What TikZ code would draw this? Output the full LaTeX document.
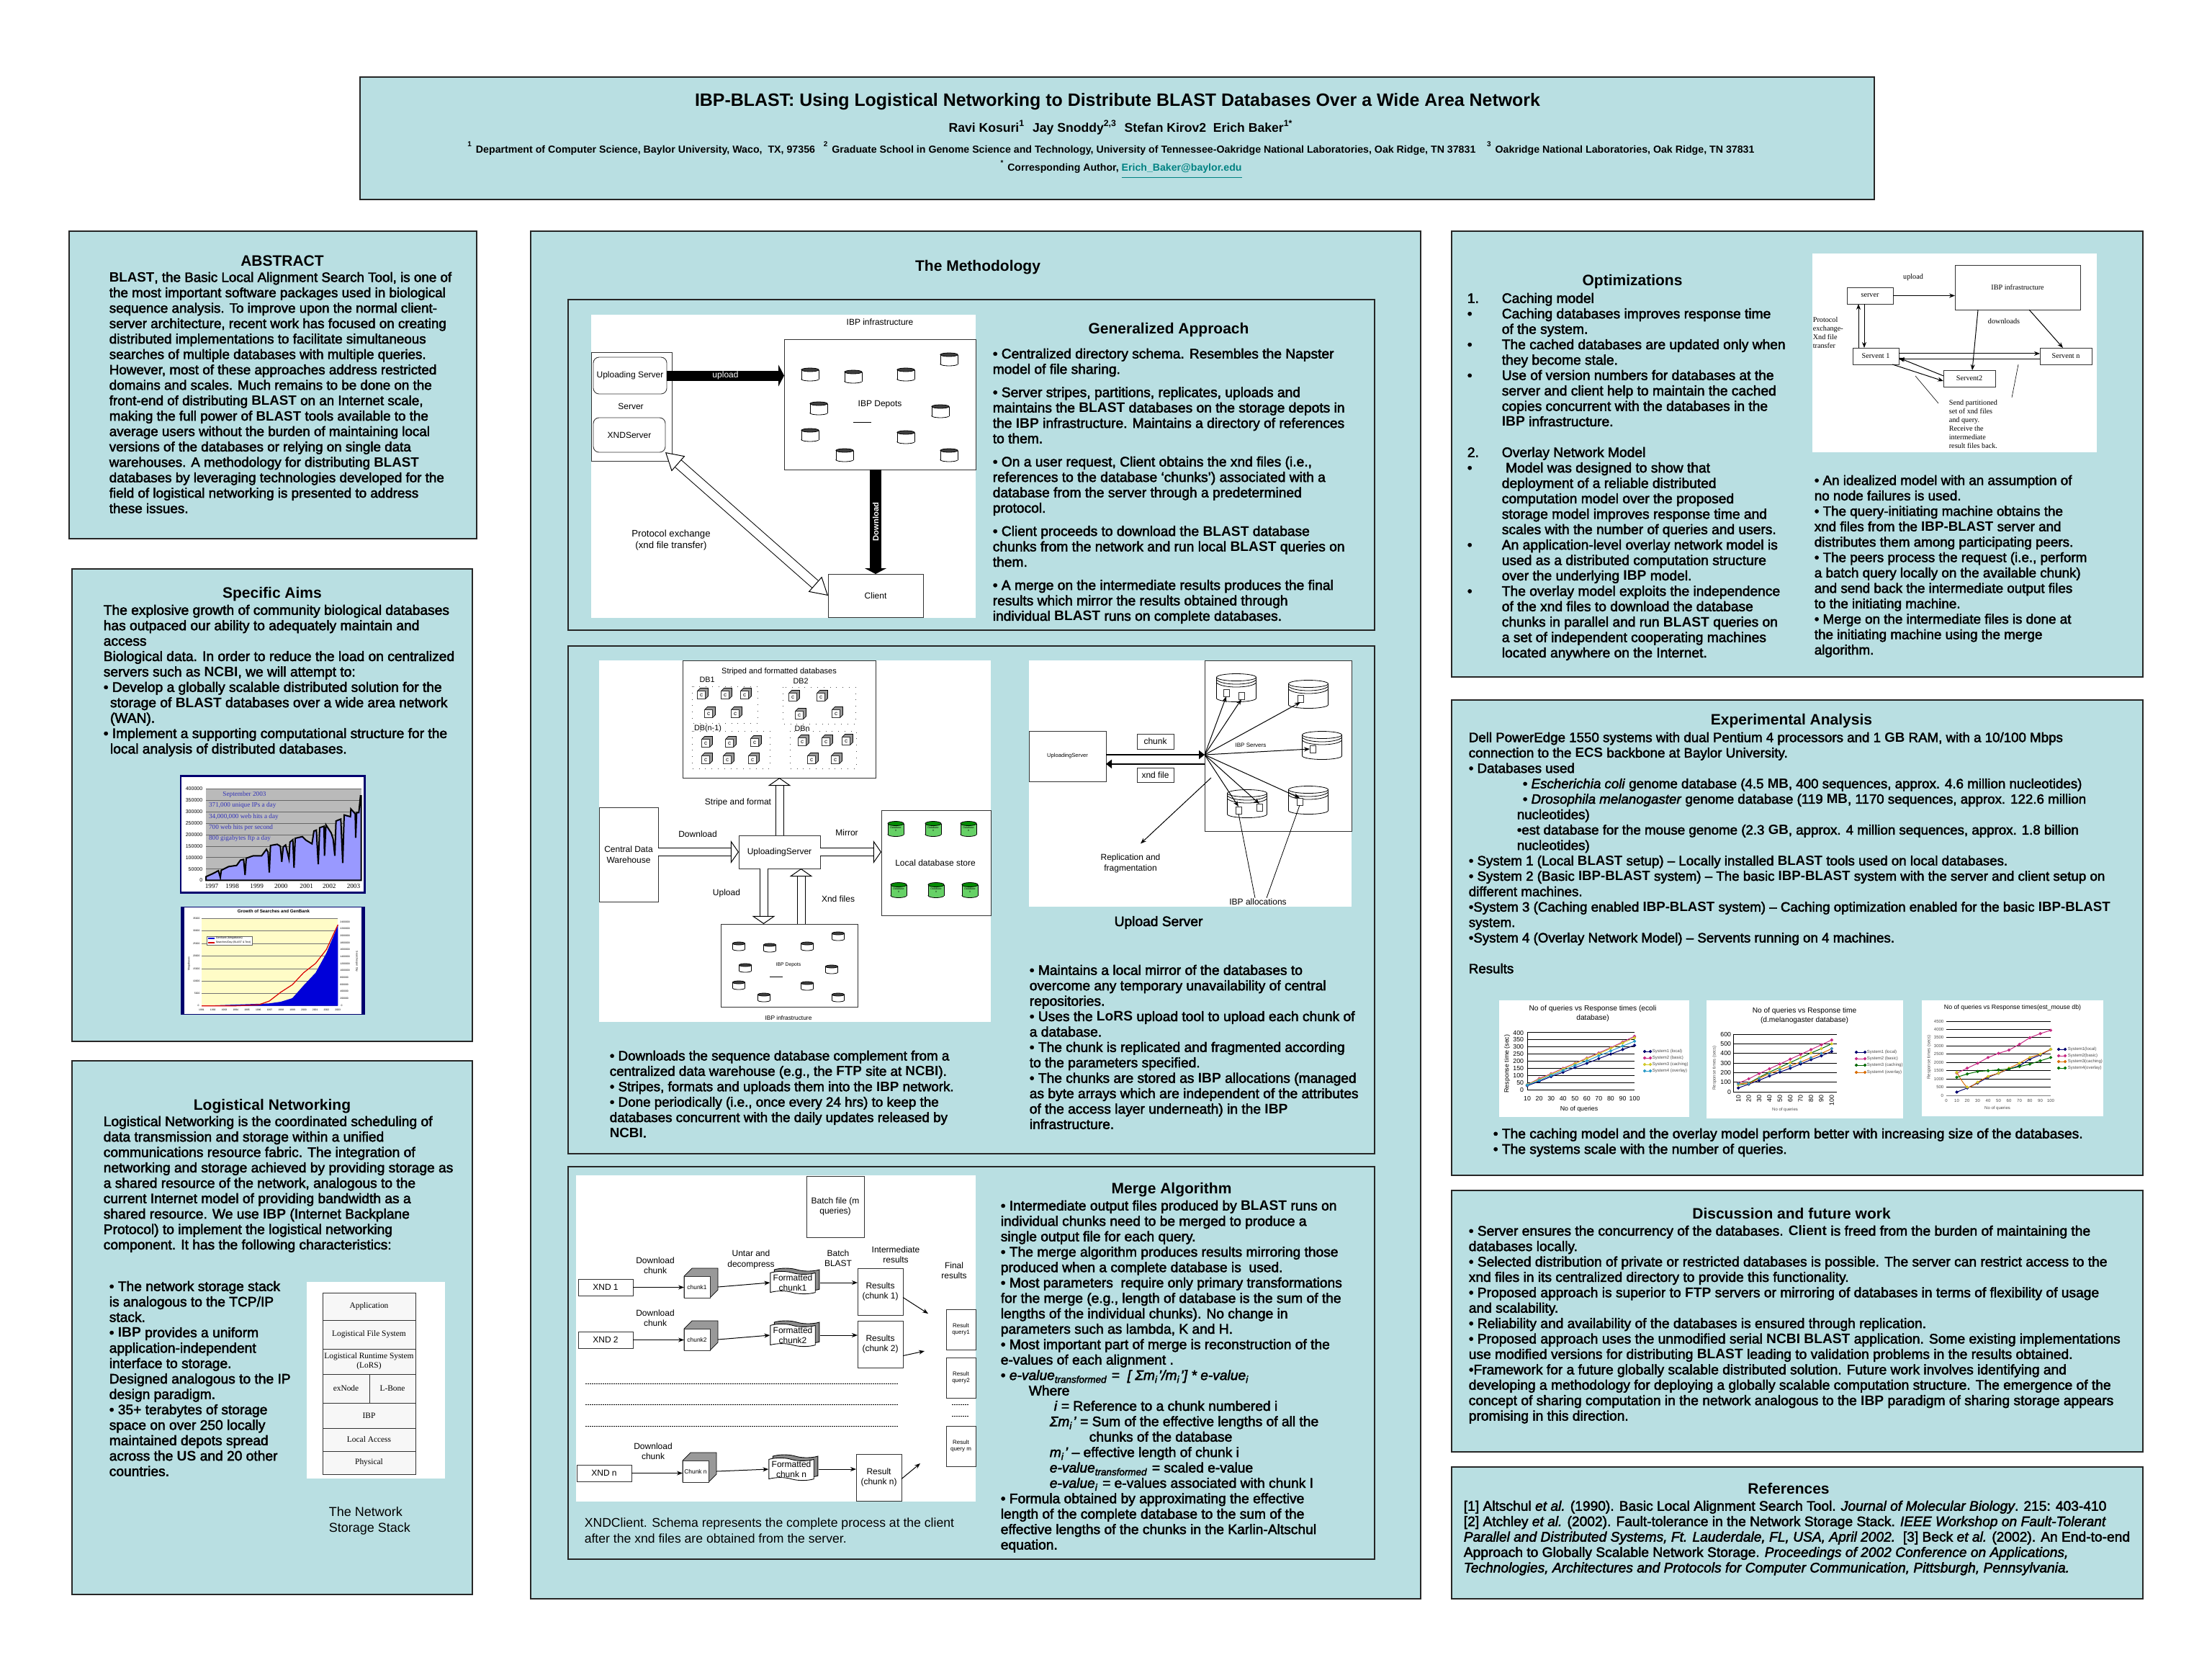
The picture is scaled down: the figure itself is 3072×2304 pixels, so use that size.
\documentclass[tikz,border=0pt]{standalone}
\usepackage{fontspec}
\setmainfont{Liberation Sans}
\newfontfamily\timesfont{Liberation Serif}
\newfontfamily\fatfont[UprightFeatures={FakeBold=2.5},ItalicFeatures={FakeBold=2.5}]{Liberation Sans}
\usetikzlibrary{arrows}
\usetikzlibrary{arrows.meta}
\usetikzlibrary{calc,shapes.symbols,shadows}
\usetikzlibrary{positioning}

\definecolor{panelblue}{RGB}{185,223,226}
\definecolor{chartnavy}{RGB}{0,0,110}
\definecolor{linkteal}{RGB}{0,130,130}

\tikzset{
  panel/.style={draw=black!85,line width=.35pt,fill=panelblue},
  body/.style={anchor=north west,align=left,inner sep=0pt,font=\fatfont\fontsize{4.8}{5.35}\selectfont,execute at begin node=\strut},
  bodysmall/.style={body,font=\fatfont\fontsize{4.7}{5.35}\selectfont},
  head/.style={inner sep=0pt,font=\bfseries\fontsize{5.25}{7}\selectfont},
  lab/.style={inner sep=0pt,align=center,font=\fontsize{3}{3.6}\selectfont},
  tinylab/.style={inner sep=0pt,align=center,font=\fontsize{2}{2.4}\selectfont},
  serlab/.style={inner sep=0pt,align=left,font=\timesfont\fontsize{2.55}{3}\selectfont},
  cell/.style={draw=black!80,line width=.22pt,font=\fontsize{3}{3.6}\selectfont},
  hollow/.style={double,double distance=2.5pt,line width=.25pt,-{Triangle[fill=white,line width=.25pt,length=2.8pt,width=8pt]}},
  solidarrow/.style={line width=3.5pt,-{Triangle[length=2pt,width=7.5pt]}},
  thinarrow/.style={line width=.25pt,->},
  doc/.style={tape,draw=black,line width=.22pt,fill=white,tape bend top=out and in,tape bend bottom=out and in,tape bend height=1pt,
    minimum width=15.6pt,minimum height=7.8pt,inner sep=0pt,align=center,font=\fontsize{3}{3.6}\selectfont,
    copy shadow={shadow xshift=1.4pt,shadow yshift=1.1pt,fill=black!45,draw=black,line width=.22pt}},
  >={Stealth[length=2pt,width=1.5pt]}
}

% box given by its corners
\newcommand{\boxat}[7][cell]{%
  \pgfmathsetmacro\bw{((#5)-(#3))*0.25}\pgfmathsetmacro\bh{((#6)-(#4))*0.25}%
  \node[#1,minimum width=\bw pt,minimum height=\bh pt,inner sep=0pt,outer sep=0pt,align=center] (#2) at ({((#3)+(#5))/2},{((#4)+(#6))/2}) {#7};}
% cube: name, centre x, centre y, width, height, depth, label
\newcommand{\cubeat}[7]{%
  \fill[black!40,draw=black,line width=.18pt] (#2-#4/2,#3-#5/2) -- ++(#6,-#6) -- ++(#4,0) -- ++(0,#5) -- ++(-#6,#6) -- ++(-#4,0) -- cycle;
  \boxat[cell,fill=white]{#1}{#2-#4/2}{#3-#5/2}{#2+#4/2}{#3+#5/2}{#7}}
% drum: name, x, y, width, height, end height, end colour, body colour, label
\newcommand{\drumat}[9]{%
  \draw[line width=.2pt,fill=#8] (#2,#3+#5/2-#6) ellipse [x radius=#4/2,y radius=#6];
  \fill[#8] (#2-#4/2,#3-#5/2+#6) rectangle (#2+#4/2,#3+#5/2-#6);
  \draw[line width=.2pt] (#2-#4/2,#3-#5/2+#6) -- (#2-#4/2,#3+#5/2-#6) (#2+#4/2,#3-#5/2+#6) -- (#2+#4/2,#3+#5/2-#6);
  \draw[line width=.2pt,fill=#7] (#2,#3-#5/2+#6) ellipse [x radius=#4/2,y radius=#6];
  \node[inner sep=0pt,align=center,font=\fontsize{.9}{1}\selectfont,minimum width=#4*.25pt,minimum height=#5*.25pt] (#1) at (#2,#3) {#9};}
% server with banded top
\newcommand{\serverat}[3]{%
  \drumat{#1}{#2}{#3}{55}{39}{5}{white}{white}{}
  \draw[line width=.2pt] (#2-27.5,#3-11) .. controls (#2-20,#3-3) and (#2+20,#3-3) .. (#2+27.5,#3-11);
  \draw[line width=.2pt] (#2-27.5,#3-7) .. controls (#2-20,#3+1) and (#2+20,#3+1) .. (#2+27.5,#3-7);}

\begin{document}
\begin{tikzpicture}[x=0.25pt,y=-0.25pt]
\useasboundingbox (0,0) rectangle (3072,2304);

% panels
\draw[panel] (500,107) rectangle (2603,277);
\draw[panel] (96,321) rectangle (662,748);
\draw[panel] (100,790) rectangle (656,1446);
\draw[panel] (100,1473) rectangle (656,2214);
\draw[panel] (737,321) rectangle (1973,2220);
\draw[panel] (789,416) rectangle (1909,875);
\draw[panel] (789,897) rectangle (1909,1602);
\draw[panel] (789,1620) rectangle (1909,2165);
\draw[panel] (2016,321) rectangle (2976,940);
\draw[panel] (2016,972) rectangle (2976,1632);
\draw[panel] (2016,1653) rectangle (2976,2016);
\draw[panel] (2016,2037) rectangle (2976,2220);

% title
\node[inner sep=0pt,font=\bfseries\fontsize{6.23}{7}\selectfont] (title) at (1552,141) {IBP-BLAST: Using Logistical Networking to Distribute BLAST Databases Over a Wide Area Network};
\node[inner sep=0pt,font=\bfseries\fontsize{4.4}{5}\selectfont] (authors) at (1557,177) {Ravi Kosuri\textsuperscript{1}\ \ Jay Snoddy\textsuperscript{2,3}\ \ Stefan Kirov2\ \ Erich Baker\textsuperscript{1*}};
\node[inner sep=0pt,font=\bfseries\fontsize{3.55}{4}\selectfont] (affil) at (1543,206) {\textsuperscript{1} Department of Computer Science, Baylor University, Waco,\ \ TX, 97356\ \ \ \textsuperscript{2} Graduate School in Genome Science and Technology, University of Tennessee-Oakridge National Laboratories, Oak Ridge, TN 37831\ \ \ \ \textsuperscript{3} Oakridge National Laboratories, Oak Ridge, TN 37831};
\node[inner sep=0pt,font=\bfseries\fontsize{3.53}{4}\selectfont] (corresp) at (1557,236) {\textsuperscript{*} Corresponding Author, {\color{linkteal}\underline{Erich\_Baker@baylor.edu}}};

% abstract
\node[head] (abstracthead) at (392,362) {ABSTRACT};
\node[bodysmall] (abstracttext) at (151,377) {\textbf{BLAST}, the Basic Local Alignment Search Tool, is one of\\
the most important software packages used in biological\\
sequence analysis. To improve upon the normal client-\\
server architecture, recent work has focused on creating\\
distributed implementations to facilitate simultaneous\\
searches of multiple databases with multiple queries.\\
However, most of these approaches address restricted\\
domains and scales. Much remains to be done on the\\
front-end of distributing \textbf{BLAST} on an Internet scale,\\
making the full power of \textbf{BLAST} tools available to the\\
average users without the burden of maintaining local\\
versions of the databases or relying on single data\\
warehouses. A methodology for distributing \textbf{BLAST}\\
databases by leveraging technologies developed for the\\
field of logistical networking is presented to address\\
these issues.};

% specific aims
\node[head] (aimshead) at (378,825) {Specific Aims};
\node[body] (aimstext) at (143,839) {The explosive growth of community biological databases\\
has outpaced our ability to adequately maintain and\\
access\\
Biological data. In order to reduce the load on centralized\\
servers such as \textbf{NCBI}, we will attempt to:\\
• Develop a globally scalable distributed solution for the\\
\hspace*{2.3pt}storage of \textbf{BLAST} databases over a wide area network\\
\hspace*{2.3pt}(WAN).\\
• Implement a supporting computational structure for the\\
\hspace*{2.3pt}local analysis of distributed databases.};

% traffic chart
\begin{scope}[shift={(230,1060)},x=0.08333pt,y=-0.08333pt]
\draw[chartnavy,line width=.7pt,fill=white] (63,52) rectangle (830,538);
\fill[black!27] (168,105) rectangle (815,487);
\foreach \gy in {105,153,201,250,297,345,392,440,487} \draw[black!60,line width=.2pt] (168,\gy) -- (815,\gy);
\fill[blue!40!white,draw=black,line width=.5pt] (168,487) -- (168,472) -- (195,460) -- (220,447) -- (228,475) -- (232,445) -- (262,430) -- (296,425) -- (312,403) -- (325,400) -- (331,465) -- (336,395) -- (365,385) -- (400,385) -- (420,358) -- (427,370) -- (432,455) -- (437,342) -- (465,337) -- (478,345) -- (484,410) -- (490,348) -- (500,340) -- (514,398) -- (518,328) -- (530,318) -- (535,435) -- (540,312) -- (570,305) -- (585,320) -- (610,335) -- (618,282) -- (628,278) -- (636,420) -- (642,268) -- (660,262) -- (662,385) -- (668,256) -- (690,290) -- (698,315) -- (705,385) -- (710,240) -- (730,232) -- (738,415) -- (744,215) -- (770,222) -- (772,190) -- (790,210) -- (792,310) -- (796,205) -- (805,205) -- (812,135) -- (815,135) -- (815,487) -- cycle;
\foreach \gv/\gy [count=\i] in {400000/105,350000/153,300000/201,250000/250,200000/297,150000/345,100000/392,50000/440,0/487}
  \node[anchor=east,inner sep=0pt,font=\fontsize{1.75}{2}\selectfont] (trafficy\i) at (156,\gy) {\gv};
\foreach \yr/\gx [count=\i] in {1997/192,1998/278,1999/380,2000/481,2001/587,2002/682,2003/783}
  \node[inner sep=0pt,font=\timesfont\fontsize{2.3}{3}\selectfont] (trafficx\i) at (\gx,510) {\yr};
\foreach \tx/\gy [count=\i] in {371{,}000 unique IPs a day/176,34{,}000{,}000 web hits a day/222,700 web hits per second/267,800 gigabytes ftp a day/312}
  \node[anchor=west,inner sep=0pt,text=blue!65!black!80,font=\timesfont\fontsize{2.3}{3}\selectfont] (traffictxt\i) at (178,\gy) {\tx};
\node[anchor=west,inner sep=0pt,text=blue!65!black!80,font=\timesfont\fontsize{2.3}{3}\selectfont] (trafficdate) at (236,131) {September 2003};
\end{scope}

% growth chart
\begin{scope}[shift={(230,1060)},x=0.08333pt,y=-0.08333pt]
\fill[white] (63,598) rectangle (830,1045);
\fill[chartnavy] (63,598) rectangle (78,1045);
\fill[chartnavy] (817,598) rectangle (830,1045);
\draw[chartnavy,line width=.2pt] (63,598) rectangle (830,1045);
\fill[yellow!22] (150,645) rectangle (718,1010);
\foreach \gy in {645,697,750,802,855,906,958,1010} \draw[black!55,line width=.12pt] (150,\gy) -- (718,\gy);
\fill[blue!85!black] (150,1010) -- (430,1000) -- (480,993) -- (528,978) -- (575,925) -- (625,872) -- (670,790) -- (718,675) -- (718,1010) -- cycle;
\draw[red!85!black,line width=.3pt] (150,1010) -- (197,1010) -- (245,1010) -- (293,1010) -- (342,1008) -- (390,1005) -- (432,990) -- (480,953) -- (528,922) -- (575,872) -- (625,833) -- (670,775) -- (718,672);
\node[inner sep=0pt,font=\bfseries\fontsize{1.55}{2}\selectfont] (growthtitle) at (450,617) {Growth of Searches and GenBank};
\foreach \gv/\gy [count=\i] in {35000/645,30000/697,25000/750,20000/802,15000/855,10000/906,5000/958,0/1010}
  \node[anchor=east,inner sep=0pt,font=\fontsize{.85}{1}\selectfont] (growthy\i) at (145,\gy) {\gv};
\foreach \gv/\gy [count=\i] in {2400000/660,2200000/689,2000000/718,1800000/747,1600000/776,1400000/805,1200000/834,1000000/863,800000/892,600000/921,400000/950,200000/979,0/1009}
  \node[anchor=west,inner sep=0pt,font=\fontsize{.85}{1}\selectfont] (growthr\i) at (725,\gy) {\gv};
\foreach \yr [count=\i from 0] in {1991,1992,...,2003}
  \node[inner sep=0pt,font=\fontsize{.85}{1}\selectfont] (growthx\i) at (150+47.3*\i,1026) {\yr};
\node[rotate=90,inner sep=0pt,font=\fontsize{.9}{1}\selectfont] (growthleft) at (97,835) {Megabases};
\node[rotate=-90,inner sep=0pt,font=\fontsize{.9}{1}\selectfont] (growthright) at (797,825) {Searches per Day};
\draw[black!60,line width=.12pt,fill=white] (173,720) rectangle (362,757);
\fill[blue!85!black] (178,727) rectangle (205,733);
\draw[red!85!black,line width=.3pt] (178,747) -- (205,747);
\node[anchor=west,inner sep=0pt,font=\fontsize{.9}{1}\selectfont] (growthleg1) at (207,729) {GenBank (Megabases)};
\node[anchor=west,inner sep=0pt,font=\fontsize{.9}{1}\selectfont] (growthleg2) at (207,747) {Searches/Day (BLAST \& Text)};
\end{scope}

% logistical networking
\node[head] (logihead) at (378,1536) {Logistical Networking};
\node[body] (logitext) at (143,1549) {Logistical Networking is the coordinated scheduling of\\
data transmission and storage within a unified\\
communications resource fabric. The integration of\\
networking and storage achieved by providing storage as\\
a shared resource of the network, analogous to the\\
current Internet model of providing bandwidth as a\\
shared resource. We use \textbf{IBP} (Internet Backplane\\
Protocol) to implement the logistical networking\\
component. It has the following characteristics:};
\node[body] (logibullets) at (151,1778) {• The network storage stack\\
is analogous to the TCP/IP\\
stack.\\
• \textbf{IBP} provides a uniform\\
application-independent\\
interface to storage.\\
Designed analogous to the IP\\
design paradigm.\\
• 35+ terabytes of storage\\
space on over 250 locally\\
maintained depots spread\\
across the \textbf{US} and 20 other\\
countries.};

% storage stack
\fill[white] (426,1780) rectangle (618,2053);
\tikzset{stacklab/.style={cell,fill=black!3,font=\timesfont\fontsize{2.85}{3.3}\selectfont}}
\boxat[stacklab]{application}{448}{1795}{577}{1833}{Application}
\boxat[stacklab]{filesystem}{448}{1833}{577}{1873}{Logistical File System}
\boxat[stacklab]{lors}{448}{1873}{577}{1908}{Logistical Runtime System\\(LoRS)}
\boxat[stacklab]{exnode}{448}{1908}{513}{1948}{exNode}
\boxat[stacklab]{lbone}{513}{1908}{577}{1948}{L-Bone}
\boxat[stacklab]{ibplayer}{448}{1948}{577}{1983}{IBP}
\boxat[stacklab]{localaccess}{448}{1983}{577}{2015}{Local Access}
\boxat[stacklab]{physical}{448}{2015}{577}{2047}{Physical}
\node[anchor=north west,align=left,inner sep=0pt,font=\fontsize{4.5}{5.4}\selectfont] (stackcaption) at (456,2092) {The Network\\Storage Stack};

% methodology
\node[head] (methodhead) at (1358,371) {The Methodology};

% generalized approach figure
\fill[white] (821,437) rectangle (1355,858);
\boxat{serverbox}{821}{489}{933}{640}{}
\boxat[cell,rounded corners=2pt]{uploading}{824}{496}{926}{547}{Uploading Server}
\boxat[cell,rounded corners=2pt]{xndserver}{824}{580}{924}{628}{XNDServer}
\node[lab] (serverlab) at (876,564) {Server};
\boxat{ibpbox}{1089}{471}{1355}{652}{}
\node[lab] (ibptitle) at (1222,447) {IBP infrastructure};
\node[lab] (ibpdepots) at (1222,562) {IBP Depots};
\draw[line width=.25pt] (1185,586) -- (1210,586);
\foreach \cx/\cy [count=\i] in {1318/499,1125/520,1185/523,1258/520,1137/567,1306/571,1125/604,1258/607,1173/632,1318/632}
  {\drumat{gdepot\i}{\cx}{\cy}{24}{18}{2.5}{black!75}{white}{}}
\boxat{client}{1150}{797}{1282}{857}{Client}
\draw[solidarrow] (uploading.east) -- (uploading.east -| ibpbox.west) node[midway,text=white,lab] (uploadlab) {upload};
\draw[solidarrow,line width=4.2pt] (client.north |- ibpbox.south) -- (client.north) node[midway,rotate=90,text=white,lab,font=\bfseries\fontsize{2.8}{3}\selectfont] (downloadlab) {Download};
\draw[hollow,double distance=3pt,{Triangle[fill=white,line width=.25pt,length=6pt,width=7pt]}-{Triangle[fill=white,line width=.25pt,length=6pt,width=7pt]}] (xndserver.south east) -- (client.west);
\node[lab,font=\fontsize{3.3}{4}\selectfont] (protolab) at (932,750) {Protocol exchange\\(xnd file transfer)};

\node[head] (genhead) at (1623,458) {Generalized Approach};
\node[body] (gentext) at (1378,483) {• Centralized directory schema. Resembles the Napster\\
model of file sharing.\\[2.7pt]
• Server stripes, partitions, replicates, uploads and\\
maintains the \textbf{BLAST} databases on the storage depots in\\
the \textbf{IBP} infrastructure. Maintains a directory of references\\
to them.\\[2.7pt]
• On a user request, Client obtains the xnd files (i.e.,\\
references to the database ‘chunks’) associated with a\\
database from the server through a predetermined\\
protocol.\\[2.7pt]
• Client proceeds to download the \textbf{BLAST} database\\
chunks from the network and run local \textbf{BLAST} queries on\\
them.\\[2.7pt]
• A merge on the intermediate results produces the final\\
results which mirror the results obtained through\\
individual \textbf{BLAST} runs on complete databases.};

% uploading server figure
\fill[white] (832,917) rectangle (1376,1419);
\boxat{striped}{948}{917}{1216}{1080}{}
\node[lab,font=\fontsize{2.75}{3}\selectfont] (stripedtitle) at (1082,933) {Striped and formatted databases};
\foreach \tx/\tpx/\tpy [count=\i] in {DB1/982/944,DB2/1112/946,DB(n-1)/983/1012,DBn/1114/1012}
  \node[lab,font=\fontsize{2.7}{3}\selectfont] (dblab\i) at (\tpx,\tpy) {\tx};
\foreach \ga/\gb/\gc/\gd in {961/953/1052/1004,1087/954/1188/1005,961/1015/1069/1067,1097/1015/1189/1067}
  \draw[dotted,line width=.2pt,black!70] (\ga,\gb) rectangle (\gc,\gd);
\foreach \cx/\cy [count=\i] in {974/965,1007/965,1034/965,984/991,1021/991,1101/968,1140/968,1110/993,1161/991,980/1032,1013/1032,1048/1031,980/1055,1010/1055,1045/1055,1114/1030,1147/1030,1175/1029,1127/1055,1160/1055}
  {\cubeat{cubec\i}{\cx}{\cy}{11}{11}{4}{\fontsize{2}{2}\selectfont c}}
\boxat{uploadsrv}{1026}{1160}{1139}{1206}{UploadingServer}
\boxat{warehouse}{832}{1121}{914}{1252}{Central Data\\Warehouse}
\boxat{localstore}{1224}{1125}{1376}{1271}{}
\node[lab] (storelab) at (1299,1198) {Local database store};
\foreach \cx/\cy [count=\i] in {1244/1151,1296/1151,1345/1151,1248/1236,1300/1236,1347/1236}
  {\drumat{gdb\i}{\cx}{\cy}{22}{21}{3}{green!55!black}{green!70!black!60}{Database\\\#}}
\boxat{ibpbottom}{1001}{1283}{1191}{1398}{}
\node[lab,font=\fontsize{2.1}{3}\selectfont] (ibpbottomlab) at (1095,1413) {IBP infrastructure};
\node[lab,font=\fontsize{1.7}{2}\selectfont] (ibpbottomdepots) at (1095,1340) {IBP Depots};
\draw[line width=.2pt] (1069,1356) -- (1087,1356);
\foreach \cx/\cy [count=\i] in {1164/1300,1026/1314,1069/1316,1121/1314,1035/1344,1155/1346,1026/1368,1121/1369,1061/1385,1164/1385}
  {\drumat{sdepot\i}{\cx}{\cy}{17}{12}{2}{black!75}{white}{}}
\draw[hollow] (warehouse.east |- uploadsrv.west) -- (uploadsrv.west);
\draw[hollow] (uploadsrv.east) -- (uploadsrv.east -| localstore.west);
\draw[hollow] (uploadsrv.north) -- (uploadsrv.north |- striped.south);
\draw[hollow] ([xshift=-5.5pt]uploadsrv.south) -- ([xshift=-5.5pt]uploadsrv.south |- ibpbottom.north);
\draw[hollow] ([xshift=7.5pt]uploadsrv.south |- ibpbottom.north) -- ([xshift=7.5pt]uploadsrv.south);
\node[lab] (downloadtxt) at (969,1158) {Download};
\node[lab] (stripetxt) at (1025,1114) {Stripe and format};
\node[lab] (mirrortxt) at (1176,1156) {Mirror};
\node[lab] (uploadtxt) at (1009,1240) {Upload};
\node[lab] (xndtxt) at (1164,1248) {Xnd files};

\node[bodysmall] (striptext) at (846,1458) {• Downloads the sequence database complement from a\\
centralized data warehouse (e.g., the \textbf{FTP} site at \textbf{NCBI}).\\
• Stripes, formats and uploads them into the \textbf{IBP} network.\\
• Done periodically (i.e., once every 24 hrs) to keep the\\
databases concurrent with the daily updates released by\\
\textbf{NCBI}.};

% upload server figure
\fill[white] (1429,917) rectangle (1877,1259);
\boxat[cell,font=\fontsize{1.9}{2}\selectfont]{uploader}{1429}{1015}{1536}{1085}{UploadingServer}
\boxat{serversbox}{1673}{917}{1877}{1154}{}
\node[tinylab] (serverslab) at (1737,1035) {IBP Servers};
\boxat{chunkbox}{1579}{1019}{1630}{1040}{chunk}
\boxat{xndbox}{1579}{1066}{1630}{1086}{xnd file}
\coordinate (hub) at (1673,1048);
\serverat{srva}{1717}{955}
\serverat{srvb}{1817}{964}
\serverat{srvc}{1836}{1035}
\serverat{srvd}{1732}{1116}
\serverat{srve}{1817}{1111}
\foreach \sname/\sx/\sy in {a1/1703/962,a2/1724/966,bb/1806/970,cc/1823/1040,d1/1720/1125,d2/1749/1121,ee/1805/1113}
  {\boxat[cell,fill=white]{\sname}{\sx-4}{\sy-5}{\sx+4}{\sy+5}{}}
\draw[line width=.6pt,-{Triangle[length=2pt,width=3pt]}] (uploader.east |- hub) -- (hub);
\draw[line width=.6pt,-{Triangle[length=2pt,width=3pt]}] ([yshift=-3.2pt]hub) -- ([yshift=-3.2pt]uploader.east |- hub);
\foreach \tgt/\bnd in {a1/south,a2/south,bb/south,cc/west,d1/north,d2/north,ee/north}
  \draw[thinarrow] (hub) -- (\tgt.\bnd);
\coordinate (replfrom) at (1682,1080);
\node[lab] (repllab) at (1570,1199) {Replication and\\fragmentation};
\draw[thinarrow] (replfrom) -- ([shift={(3.5pt,3.5pt)}]repllab.north);
\node[lab] (alloclab) at (1747,1252) {IBP allocations};
\draw[line width=.2pt] ([xshift=-1pt]alloclab.north) -- (d1.south);
\draw[line width=.2pt] ([xshift=3pt]alloclab.north) -- (ee.south);
\node[inner sep=0pt,font=\fatfont\fontsize{4.8}{5.35}\selectfont] (uploadcap) at (1609,1281) {Upload Server};

\node[body] (uploadtext) at (1429,1339) {• Maintains a local mirror of the databases to\\
overcome any temporary unavailability of central\\
repositories.\\
• Uses the \textbf{LoRS} upload tool to upload each chunk of\\
a database.\\
• The chunk is replicated and fragmented according\\
to the parameters specified.\\
• The chunks are stored as \textbf{IBP} allocations (managed\\
as byte arrays which are independent of the attributes\\
of the access layer underneath) in the \textbf{IBP}\\
infrastructure.};

% merge figure
\fill[white] (800,1632) rectangle (1355,2085);
\boxat{batch}{1120}{1633}{1200}{1718}{Batch file (m\\queries)}
\foreach \rowid/\xndx/\xndy/\xndt/\cbx/\cby/\cbt/\docx/\docy/\doct/\rsx/\rsy/\rst in
  {one/803/1776/XND 1/968/1787/chunk1/1101/1781/Formatted\\chunk1/1191/1761/Results\\(chunk 1),
   two/803/1849/XND 2/968/1860/chunk2/1101/1854/Formatted\\chunk2/1191/1834/Results\\(chunk 2),
   enn/801/2034/XND n/966/2043/Chunk n/1099/2040/Formatted\\chunk n/1189/2019/Result\\(chunk n)}{
  \boxat{xnd\rowid}{\xndx}{\xndy}{\xndx+76}{\xndy+23}{\xndt}
  \cubeat{cube\rowid}{\cbx}{\cby}{36}{30}{11}{\fontsize{2.1}{2.4}\selectfont \cbt}
  \node[doc] (fmt\rowid) at (\docx,\docy) {\doct};
  \boxat{res\rowid}{\rsx}{\rsy}{\rsx+63}{\rsy+65}{\rst}
  \draw[thinarrow] (xnd\rowid.east) -- (xnd\rowid.east -| cube\rowid.west);
  \draw[thinarrow] ([xshift=2.75pt]cube\rowid.east) -- (fmt\rowid.west);
  \draw[thinarrow] ([xshift=1.5pt]fmt\rowid.east) -- (fmt\rowid.east -| res\rowid.west);
}
\tikzset{finalbox/.style={cell,font=\fontsize{2}{2.4}\selectfont}}
\boxat[finalbox]{finalone}{1314}{1818}{1355}{1874}{Result\\query1}
\boxat[finalbox]{finaltwo}{1314}{1885}{1355}{1941}{Result\\query2}
\boxat[finalbox]{finalenn}{1314}{1980}{1355}{2036}{Result\\query m}
\coordinate (endone) at (1289,1824);
\coordinate (endtwo) at (1284,1876);
\coordinate (endenn) at (1278,2032);
\draw[thinarrow] ([yshift=-2pt]resone.east) -- (endone);
\draw[thinarrow] ([yshift=-4pt]restwo.east) -- (endtwo);
\draw[thinarrow] ([yshift=-0.5pt]resenn.east) -- (endenn);
\foreach \gy in {1921,1950,1980} \draw[dash pattern=on .5pt off .25pt,line width=.2pt] (813,\gy) -- (1248,\gy);
\foreach \gy in {1950,1966} \draw[dash pattern=on .5pt off .25pt,line width=.2pt] (1322,\gy) -- (1345,\gy);
\node[lab] (dlone) at (910,1757) {Download\\chunk};
\node[lab] (dltwo) at (910,1830) {Download\\chunk};
\node[lab] (dlenn) at (907,2015) {Download\\chunk};
\node[lab] (untar) at (1043,1749) {Untar and\\decompress};
\node[lab] (batchblast) at (1164,1747) {Batch\\BLAST};
\node[lab] (intermed) at (1244,1742) {Intermediate\\results};
\node[lab] (finalres) at (1325,1764) {Final\\results};
\node[anchor=north west,align=left,inner sep=0pt,font=\fontsize{4.4}{5.4}\selectfont] (mergecaption) at (811,2107) {XNDClient. Schema represents the complete process at the client\\after the xnd files are obtained from the server.};

\node[head] (mergehead) at (1627,1652) {Merge Algorithm};
\node[body] (mergetext) at (1389,1666) {• Intermediate output files produced by \textbf{BLAST} runs on\\
individual chunks need to be merged to produce a\\
single output file for each query.\\
•\ The merge algorithm produces results mirroring those\\
produced when a complete database is \ used.\\
• Most parameters \ require only primary transformations\\
for the merge (e.g., length of database is the sum of the\\
lengths of the individual chunks). No change in\\
parameters such as lambda, K and H.\\
• Most important part of merge is reconstruction of the\\
e-values of each alignment .\\
• \textit{e-value\textsubscript{transformed}} = \ \textit{[ Σm\textsubscript{i}’/m\textsubscript{i}’] * e-value\textsubscript{i}}\\
\hspace*{9.75pt}Where\\
\hspace*{18.5pt}\textit{i} = Reference to a chunk numbered i\\
\hspace*{17pt}\textit{Σm\textsubscript{i}’} = Sum of the effective lengths of all the\\
\hspace*{30.75pt}chunks of the database\\
\hspace*{17pt}\textit{m\textsubscript{i}’} – effective length of chunk i\\
\hspace*{17pt}\textit{e-value\textsubscript{transformed}} = scaled e-value\\
\hspace*{17pt}\textit{e-value\textsubscript{i}} = e-values associated with chunk I\\
• Formula obtained by approximating the effective\\
length of the complete database to the sum of the\\
effective lengths of the chunks in the Karlin-Altschul\\
equation.};

% optimizations
\node[head] (opthead) at (2267,391) {Optimizations};
\newcommand{\gut}[1]{\makebox[12pt][l]{#1}}
\node[body] (opttext) at (2037,406) {\gut{1.}Caching model\\
\gut{•}Caching databases improves response time\\
\gut{}of the system.\\
\gut{•}The cached databases are updated only when\\
\gut{}they become stale.\\
\gut{•}Use of version numbers for databases at the\\
\gut{}server and client help to maintain the cached\\
\gut{}copies concurrent with the databases in the\\
\gut{}\textbf{IBP} infrastructure.\\[5.35pt]
\gut{2.}Overlay Network Model\\
\gut{•}\ Model was designed to show that\\
\gut{}deployment of a reliable distributed\\
\gut{}computation model over the proposed\\
\gut{}storage model improves response time and\\
\gut{}scales with the number of queries and users.\\
\gut{•}An application-level overlay network model is\\
\gut{}used as a distributed computation structure\\
\gut{}over the underlying \textbf{IBP} model.\\
\gut{•}The overlay model exploits the independence\\
\gut{}of the xnd files to download the database\\
\gut{}chunks in parallel and run \textbf{BLAST} queries on\\
\gut{}a set of independent cooperating machines\\
\gut{}located anywhere on the Internet.};

% overlay figure
\fill[white] (2517,352) rectangle (2912,628);
\tikzset{overlaylab/.style={cell,line width=.25pt,font=\timesfont\fontsize{2.55}{3}\selectfont}}
\boxat[overlaylab]{server}{2565}{399}{2629}{422}{server}
\boxat[overlaylab]{ibpcloud}{2715}{368}{2889}{430}{IBP infrastructure}
\boxat[overlaylab]{servent1}{2573}{483}{2637}{506}{Servent 1}
\boxat[overlaylab]{serventn}{2833}{483}{2905}{506}{Servent n}
\boxat[overlaylab]{servent2}{2699}{514}{2771}{537}{Servent2}
\draw[thinarrow] (server.east) -- (server.east -| ibpcloud.west);
\draw[thinarrow] ([xshift=-4pt]server.south |- servent1.north) -- ([xshift=-4pt]server.south);
\draw[thinarrow] ([xshift=-2pt]server.south) -- ([xshift=-2pt]server.south |- servent1.north);
\draw[thinarrow] ([xshift=-13.75pt]ibpcloud.south) -- ([xshift=1pt]servent2.north);
\draw[thinarrow] ([xshift=4pt]ibpcloud.south) -- ([xshift=-1pt]serventn.north);
\draw[thinarrow] ([yshift=.9pt]servent1.east) -- ([yshift=.9pt]serventn.west);
\draw[thinarrow] ([yshift=-1.1pt]serventn.west) -- ([yshift=-1.1pt]servent1.east);
\draw[thinarrow] ([xshift=-2.2pt]servent1.south east) -- ([yshift=-.9pt]servent2.west);
\draw[thinarrow] ([yshift=.9pt]servent2.west) -- ([yshift=-.6pt]servent1.east);
\coordinate (noteone) at (2660,522);
\coordinate (noteonee) at (2692,560);
\coordinate (notetwo) at (2803,506);
\coordinate (notetwoe) at (2794,552);
\draw[line width=.15pt] (noteone) -- (noteonee);
\draw[line width=.15pt] (notetwo) -- (notetwoe);
\node[serlab] (uploadnote) at (2657,385) {upload};
\node[serlab] (downnote) at (2783,446) {downloads};
\node[serlab,anchor=north west] (protonote) at (2517,440) {Protocol\\exchange-\\Xnd file\\transfer};
\node[serlab,anchor=north west] (sendnote) at (2706,555) {Send partitioned\\set of xnd files\\and query.\\Receive the\\intermediate\\result files back.};

\node[bodysmall] (overlaytext) at (2519,659) {• An idealized model with an assumption of\\
no node failures is used.\\
• The query-initiating machine obtains the\\
xnd files from the \textbf{IBP-BLAST} server and\\
distributes them among participating peers.\\
• The peers process the request (i.e., perform\\
a batch query locally on the available chunk)\\
and send back the intermediate output files\\
to the initiating machine.\\
• Merge on the intermediate files is done at\\
the initiating machine using the merge\\
algorithm.};

% experimental analysis
\node[head] (exphead) at (2488,1001) {Experimental Analysis};
\node[body,font=\fatfont\fontsize{4.68}{5.35}\selectfont] (exptext) at (2039,1016) {Dell PowerEdge 1550 systems with dual Pentium 4 processors and 1 \textbf{GB} RAM, with a 10/100 Mbps\\
connection to the \textbf{ECS} backbone at Baylor University.\\
• Databases used\\
\hspace*{18.75pt}• \textit{Escherichia coli} genome database (4.5 \textbf{MB}, 400 sequences, approx. 4.6 million nucleotides)\\
\hspace*{18.75pt}• \textit{Drosophila melanogaster} genome database (119 \textbf{MB}, 1170 sequences, approx. 122.6 million\\
\hspace*{16.75pt}nucleotides)\\
\hspace*{16.75pt}•est database for the mouse genome (2.3 \textbf{GB}, approx. 4 million sequences, approx. 1.8 billion\\
\hspace*{16.75pt}nucleotides)\\
• System 1 (Local \textbf{BLAST} setup) – Locally installed \textbf{BLAST} tools used on local databases.\\
• System 2 (Basic \textbf{IBP-BLAST} system) – The basic \textbf{IBP-BLAST} system with the server and client setup on\\
different machines.\\
•System 3 (Caching enabled \textbf{IBP-BLAST} system) – Caching optimization enabled for the basic \textbf{IBP-BLAST}\\
system.\\
•System 4 (Overlay Network Model) – Servents running on 4 machines.\\[5.35pt]
Results};

% result charts
\tikzset{charttitle/.style={inner sep=0pt,align=center,font=\fontsize{2.55}{3.3}\selectfont},
  charttick/.style={inner sep=0pt,font=\fontsize{2.2}{2.4}\selectfont},
  chartsmall/.style={inner sep=0pt,font=\fontsize{1.5}{1.8}\selectfont,text=black!70},
  chartline/.style={line width=.25pt,mark=*,mark size=.4pt}}
\fill[white] (2082,1389) rectangle (2346,1551);
\fill[white] (2370,1389) rectangle (2643,1553);
\fill[white] (2669,1389) rectangle (2921,1550);

\node[charttitle] (charta) at (2212,1407) {No of queries vs Response times (ecoli\\database)};
\begin{scope}[shift={(2121,1513)},x=.414pt,y=.0494pt]
\foreach \gy in {0,50,...,400} \draw[line width=.25pt] (0,\gy) -- (90,\gy);
\draw[line width=.25pt] (0,0) -- (0,400);
\foreach \gy [count=\i] in {0,50,...,400} \node[charttick,anchor=east] (chartay\i) at (-2.5,\gy) {\gy};
\foreach \gx [count=\i] in {10,20,...,100} \node[charttick] (chartax\i) at (\gx-10,-65) {\gx};
\draw[chartline,chartnavy] plot coordinates {(0,28) (10,58) (20,92) (30,122) (40,155) (50,185) (60,218) (70,250) (80,282) (90,312)};
\draw[chartline,magenta!80!black] plot coordinates {(0,35) (10,78) (20,112) (30,150) (40,185) (50,222) (60,258) (70,295) (80,335) (90,375)};
\draw[chartline,yellow!80!black] plot coordinates {(0,35) (10,72) (20,108) (30,145) (40,182) (50,218) (60,252) (70,290) (80,328) (90,365)};
\draw[chartline,cyan!80!black] plot coordinates {(0,32) (10,65) (20,100) (30,135) (40,170) (50,202) (60,238) (70,272) (80,306) (90,340)};
\end{scope}
\node[charttick] (chartaxt) at (2193,1540) {No of queries};
\node[charttick,rotate=90] (chartayt) at (2093,1477) {Response time (sec)};
\foreach \tx/\cl/\gy [count=\i] in {System1 (local)/chartnavy/1460,System2 (basic)/magenta!80!black/1469,System3 (caching)/yellow!80!black/1478,System4 (overlay)/cyan!80!black/1487}
  {\draw[line width=.25pt,\cl,mark=*,mark size=.4pt] plot coordinates {(2284,\gy) (2292,\gy)};
   \node[chartsmall,anchor=west] (chartaleg\i) at (2294,\gy) {\tx};}

\node[charttitle] (chartb) at (2506,1410) {No of queries vs Response time\\(d.melanogaster database)};
\begin{scope}[shift={(2407,1516)},x=3.6pt,y=.0333pt]
\foreach \gy in {0,100,...,600} \draw[line width=.25pt] (0,\gy) -- (10,\gy);
\draw[line width=.25pt] (0,0) -- (0,600);
\foreach \gy [count=\i] in {0,100,...,600} \node[charttick,anchor=east] (chartby\i) at (-.15,\gy) {\gy};
\foreach \gx [count=\i] in {10,20,...,100} \node[charttick,rotate=90,anchor=east] (chartbx\i) at (\i-.5,-30) {\gx};
\draw[chartline,chartnavy] plot coordinates {(.5,40) (1.5,80) (2.5,120) (3.5,165) (4.5,205) (5.5,245) (6.5,290) (7.5,335) (8.5,375) (9.5,420)};
\draw[chartline,magenta!80!black] plot coordinates {(.5,90) (1.5,135) (2.5,190) (3.5,240) (4.5,290) (5.5,340) (6.5,390) (7.5,440) (8.5,490) (9.5,540)};
\draw[chartline,green!40!black,mark options={yellow!80!black}] plot coordinates {(.5,70) (1.5,90) (2.5,150) (3.5,205) (4.5,255) (5.5,305) (6.5,355) (7.5,405) (8.5,450) (9.5,500)};
\draw[chartline,orange!85!black,mark options={cyan!70!black}] plot coordinates {(.5,85) (1.5,85) (2.5,140) (3.5,190) (4.5,230) (5.5,270) (6.5,310) (7.5,355) (8.5,400) (9.5,450)};
\end{scope}
\node[chartsmall] (chartbxt) at (2479,1541) {No of queries};
\node[chartsmall,rotate=90] (chartbyt) at (2381,1483) {Response times (secs)};
\foreach \tx/\cl/\gy [count=\i] in {System1 (local)/chartnavy/1461,System2 (basic)/magenta!80!black/1470,System3 (caching)/green!40!black/1479,System4 (overlay)/orange!85!black/1489}
  {\draw[line width=.25pt,\cl,mark=*,mark size=.4pt] plot coordinates {(2578,\gy) (2590,\gy)};
   \node[chartsmall,anchor=west] (chartbleg\i) at (2592,\gy) {\tx};}

\node[charttitle,font=\fontsize{2.2}{3}\selectfont] (chartc) at (2795,1399) {No of queries vs Response times(est\_mouse db)};
\begin{scope}[shift={(2703,1521)},x=.3625pt,y=.00572pt]
\foreach \gy in {500,1000,...,4500} \draw[line width=.25pt] (0,\gy) -- (100,\gy);
\draw[black!50,line width=.15pt] (0,0) -- (100,0);
\foreach \gy [count=\i] in {0,500,...,4500} \node[chartsmall,anchor=east] (chartcy\i) at (-2,\gy) {\gy};
\foreach \gx [count=\i] in {0,10,...,100} \node[chartsmall] (chartcx\i) at (\gx,-310) {\gx};
\draw[chartline,chartnavy] plot coordinates {(10,200) (20,450) (30,750) (40,1100) (50,1350) (60,1600) (70,1800) (80,2200) (90,2450) (100,2800)};
\draw[chartline,magenta!80!black] plot coordinates {(10,1350) (20,1650) (30,1950) (40,2300) (50,2550) (60,2750) (70,3100) (80,3500) (90,3750) (100,3950)};
\draw[chartline,orange!85!black,mark options={yellow!80!black}] plot[smooth] coordinates {(10,1400) (20,500) (30,800) (40,1150) (50,1350) (60,1650) (70,1950) (80,2300) (90,2500) (100,2800)};
\draw[chartline,green!45!black] plot coordinates {(10,1100) (20,1300) (30,1450) (40,1500) (50,1550) (60,1600) (70,1750) (80,1900) (90,2100) (100,2300)};
\end{scope}
\node[chartsmall] (chartcxt) at (2774,1539) {No of queries};
\node[chartsmall,rotate=90] (chartcyt) at (2679,1468) {Response times (secs)};
\foreach \tx/\cl/\gy [count=\i] in {System1(local)/chartnavy/1457,System2(basic)/magenta!80!black/1466,System3(caching)/orange!85!black/1474,System4(overlay)/green!45!black/1483}
  {\draw[line width=.25pt,\cl,mark=*,mark size=.4pt] plot coordinates {(2859,\gy) (2868,\gy)};
   \node[chartsmall,anchor=west] (chartcleg\i) at (2871,\gy) {\tx};}

\node[body] (exptail) at (2073,1566) {• The caching model and the overlay model perform better with increasing size of the databases.\\
• The systems scale with the number of queries.};

% discussion
\node[head] (dischead) at (2488,1685) {Discussion and future work};
\node[body] (disctext) at (2039,1701) {• Server ensures the concurrency of the databases. \textbf{Client} is freed from the burden of maintaining the\\
databases locally.\\
• Selected distribution of private or restricted databases is possible. The server can restrict access to the\\
xnd files in its centralized directory to provide this functionality.\\
• Proposed approach is superior to \textbf{FTP} servers or mirroring of databases in terms of flexibility of usage\\
and scalability.\\
• Reliability and availability of the databases is ensured through replication.\\
• Proposed approach uses the unmodified serial \textbf{NCBI BLAST} application. Some existing implementations\\
use modified versions for distributing \textbf{BLAST} leading to validation problems in the results obtained.\\
•Framework for a future globally scalable distributed solution. Future work involves identifying and\\
developing a methodology for deploying a globally scalable computation structure. The emergence of the\\
concept of sharing computation in the network analogous to the \textbf{IBP} paradigm of sharing storage appears\\
promising in this direction.};

% references
\node[head] (refhead) at (2484,2067) {References};
\node[body] (reftext) at (2032,2083) {{[}1] Altschul \textit{et al.} (1990). Basic Local Alignment Search Tool. \textit{Journal of Molecular Biology}. 215: 403-410\\
{[}2] Atchley \textit{et al.} (2002). Fault-tolerance in the Network Storage Stack. \textit{IEEE Workshop on Fault-Tolerant}\\
\textit{Parallel and Distributed Systems, Ft. Lauderdale, FL, USA, April 2002.}\ \ {[}3] Beck \textit{et al.} (2002). An End-to-end\\
Approach to Globally Scalable Network Storage. \textit{Proceedings of 2002 Conference on Applications,}\\
\textit{Technologies, Architectures and Protocols for Computer Communication, Pittsburgh, Pennsylvania.}};
\end{tikzpicture}
\end{document}
